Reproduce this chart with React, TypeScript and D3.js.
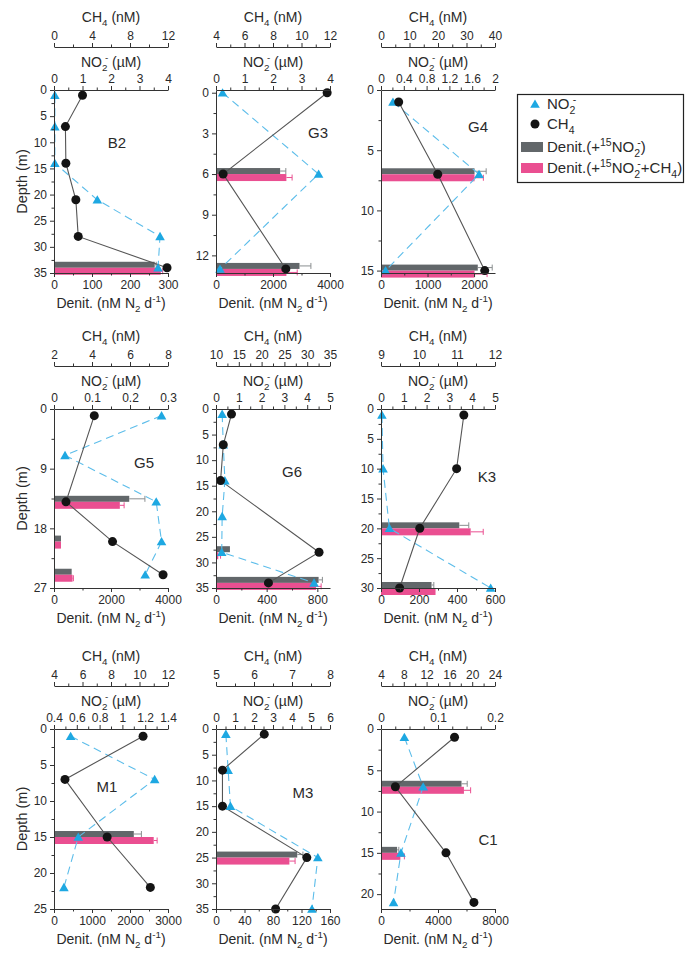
import { useRef, useEffect } from 'react';
import * as d3 from 'd3';

type Pt = [number, number]; // [depth (m), value]
type Bar = [number, number, number]; // [depth (m), rate, error]

// B2
const b2Ch4: Pt[] = [[1, 3.0], [7, 1.2], [14, 1.25], [21, 2.3], [28, 2.55], [34, 11.9]];
const b2No2: Pt[] = [[1, 0.03], [7, 0.03], [14, 0.03], [21, 1.52], [28, 3.72], [34, 3.65]];
const b2DenitNo2: Bar[] = [[34, 265, 4]];
const b2DenitCh4: Bar[] = [[34, 281, 5]];

// G3
const g3Ch4: Pt[] = [[0, 11.8], [6, 4.5], [13, 8.9]];
const g3No2: Pt[] = [[0, 0.23], [6, 3.6], [13, 0.14]];
const g3DenitNo2: Bar[] = [[6, 2250, 200], [13, 2930, 400]];
const g3DenitCh4: Bar[] = [[6, 2470, 200], [13, 2470, 380]];

// G4
const g4Ch4: Pt[] = [[1, 6.2], [7, 19.9], [15, 36.4]];
const g4No2: Pt[] = [[1, 0.21], [7, 1.72], [15, 0.08]];
const g4DenitNo2: Bar[] = [[7, 2010, 250], [15, 2080, 310]];
const g4DenitCh4: Bar[] = [[7, 2010, 190], [15, 2010, 270]];

// G5
const g5Ch4: Pt[] = [[1, 4.12], [14, 2.63], [20, 5.08], [25, 7.74]];
const g5No2: Pt[] = [[1, 0.283], [7, 0.029], [14, 0.269], [20, 0.283], [25, 0.24]];
const g5DenitNo2: Bar[] = [[14, 2640, 550], [20, 245, 0], [25, 620, 0]];
const g5DenitCh4: Bar[] = [[14, 2310, 150], [20, 245, 0], [25, 650, 30]];

// G6
const g6Ch4: Pt[] = [[1, 13.4], [7, 11.6], [14, 11.0], [28, 32.6], [34, 21.5]];
const g6No2: Pt[] = [[1, 0.27], [7, 0.32], [14, 0.39], [21, 0.27], [28, 0.25], [34, 4.3]];
const g6DenitNo2: Bar[] = [[28, 110, 0], [34, 810, 30]];
const g6DenitCh4: Bar[] = [[28, 18, 18], [34, 790, 40]];

// K3
const k3Ch4: Pt[] = [[1, 11.18], [10, 10.99], [20, 10.02], [30, 9.49]];
const k3No2: Pt[] = [[1, 0.04], [10, 0.09], [20, 0.37], [30, 4.81]];
const k3DenitNo2: Bar[] = [[20, 412, 50], [30, 266, 12]];
const k3DenitCh4: Bar[] = [[20, 472, 66], [30, 287, 0]];

// M1
const m1Ch4: Pt[] = [[1, 10.25], [7, 4.77], [15, 7.73], [22, 10.76]];
const m1No2: Pt[] = [[1, 0.546], [7, 1.283], [15, 0.613], [22, 0.487]];
const m1DenitNo2: Bar[] = [[15, 2100, 200]];
const m1DenitCh4: Bar[] = [[15, 2624, 90]];

// M3
const m3Ch4: Pt[] = [[1, 6.27], [8, 5.17], [15, 5.17], [25, 7.39], [35, 6.57]];
const m3No2: Pt[] = [[1, 0.52], [8, 0.64], [15, 0.76], [25, 5.36], [35, 5.05]];
const m3DenitNo2: Bar[] = [[25, 114, 8]];
const m3DenitCh4: Bar[] = [[25, 103, 8]];

// C1
const c1Ch4: Pt[] = [[1, 16.9], [7, 6.52], [15, 15.4], [21, 20.3]];
const c1No2: Pt[] = [[1, 0.041], [7, 0.074], [15, 0.035], [21, 0.022]];
const c1DenitNo2: Bar[] = [[7, 5650, 400], [15, 1130, 120]];
const c1DenitCh4: Bar[] = [[7, 5820, 470], [15, 1360, 280]];

// axis specs: [min, max, major step, minor step]
const panels = [
  { name: 'B2', row: 0, col: 0, ch4Axis: [0, 12, 4, 2], no2Axis: [0, 4, 1, 0.5], depthAxis: [0, 35, 5, 2.5], denitAxis: [0, 300, 100, 50], ch4: b2Ch4, no2: b2No2, gray: b2DenitNo2, pink: b2DenitCh4, label: [63, 53] },
  { name: 'G3', row: 0, col: 1, ch4Axis: [4, 12, 2, 1], no2Axis: [0, 4, 1, 0.5], depthAxis: [-0.2, 13.3, 3, 1.5], denitAxis: [0, 4000, 2000, 1000], ch4: g3Ch4, no2: g3No2, gray: g3DenitNo2, pink: g3DenitCh4, label: [102, 43] },
  { name: 'G4', row: 0, col: 2, ch4Axis: [0, 40, 10, 5], no2Axis: [0, 2, 0.4, 0.2], depthAxis: [0, 15.2, 5, 2.5], denitAxis: [0, 2450, 1000, 500], ch4: g4Ch4, no2: g4No2, gray: g4DenitNo2, pink: g4DenitCh4, label: [97, 37] },
  { name: 'G5', row: 1, col: 0, ch4Axis: [2, 8, 2, 1], no2Axis: [0, 0.3, 0.1, 0.05], depthAxis: [0, 27, 9, 4.5], denitAxis: [0, 4000, 2000, 1000], ch4: g5Ch4, no2: g5No2, gray: g5DenitNo2, pink: g5DenitCh4, label: [90, 54] },
  { name: 'G6', row: 1, col: 1, ch4Axis: [10, 35, 5, 2.5], no2Axis: [0, 5, 1, 0.5], depthAxis: [0, 35, 5, 2.5], denitAxis: [0, 900, 400, 200], ch4: g6Ch4, no2: g6No2, gray: g6DenitNo2, pink: g6DenitCh4, label: [76, 63] },
  { name: 'K3', row: 1, col: 2, ch4Axis: [9, 12, 1, 0.5], no2Axis: [0, 5, 1, 0.5], depthAxis: [0, 30, 5, 2.5], denitAxis: [0, 600, 200, 100], ch4: k3Ch4, no2: k3No2, gray: k3DenitNo2, pink: k3DenitCh4, label: [106, 68] },
  { name: 'M1', row: 2, col: 0, ch4Axis: [4, 12, 2, 1], no2Axis: [0.4, 1.4, 0.2, 0.1], depthAxis: [0, 25, 5, 2.5], denitAxis: [0, 3000, 1000, 500], ch4: m1Ch4, no2: m1No2, gray: m1DenitNo2, pink: m1DenitCh4, label: [53, 58] },
  { name: 'M3', row: 2, col: 1, ch4Axis: [5, 8, 1, 0.5], no2Axis: [0, 6, 1, 0.5], depthAxis: [0, 35, 5, 2.5], denitAxis: [0, 160, 40, 20], ch4: m3Ch4, no2: m3No2, gray: m3DenitNo2, pink: m3DenitCh4, label: [87, 64] },
  { name: 'C1', row: 2, col: 2, ch4Axis: [4, 24, 4, 2], no2Axis: [0, 0.2, 0.1, 0.025], depthAxis: [0, 21.8, 5, 2.5], denitAxis: [0, 8000, 4000, 2000], ch4: c1Ch4, no2: c1No2, gray: c1DenitNo2, pink: c1DenitCh4, label: [107, 111] },
];

const W = 685;
const H = 954;
const colX = [54, 216, 381];
const rowY = [90, 409, 729];
const rowH = [183, 179, 180];
const plotW = 114;

const FONT = "'Liberation Sans', Arial, Helvetica, sans-serif";
const INK = '#2a2a2a';
const BLUE = '#1ea8e2';
const BLUE_LINE = '#5cbdea';
const GRAY = '#62676a';
const PINK = '#ea4f91';

function ticksOf(lo: number, hi: number, step: number) {
  const out: number[] = [];
  const i0 = Math.ceil(lo / step - 1e-9);
  const i1 = Math.floor(hi / step + 1e-9);
  for (let i = i0; i <= i1; i++) out.push(+(i * step).toFixed(6));
  return out;
}

const fmt = (v: any) => String(+(+v).toFixed(4));

// segs: [text, kind] kind 0 normal, 1 subscript, 2 superscript, 3 superscript tucked after a subscript
function rich(text: any, segs: [string, number][], size: number) {
  let shift = 0;
  let lastW = 0;
  segs.forEach(([t, k]) => {
    const fs = k === 0 ? size : size * 0.7;
    const target = k === 1 ? size * 0.3 : k >= 2 ? -size * 0.42 : 0;
    const ts = text.append('tspan').attr('font-size', fs).attr('dy', target - shift).text(t);
    if (k === 3) ts.attr('dx', -lastW * 0.45);
    shift = target;
    lastW = t.length * fs * 0.556;
  });
}

function drawAxis(g: any, make: any, scale: any, spec: number[]) {
  const [lo, hi, major, minor] = spec;
  const majors = ticksOf(lo, hi, major);
  const minors = ticksOf(lo, hi, minor).filter(v => !majors.some(m => Math.abs(m - v) < 1e-9));
  g.call(make(scale).tickValues(majors).tickSize(4).tickSizeOuter(0).tickPadding(3).tickFormat(fmt));
  g.append('g')
    .call(make(scale).tickValues(minors).tickSize(2.5).tickSizeOuter(0).tickFormat(() => ''))
    .select('.domain')
    .remove();
  g.attr('font-family', FONT).attr('font-size', 12).style('color', '#333');
  g.selectAll('text').attr('fill', INK);
}

export default function App() {
  const svgRef = useRef<SVGSVGElement>(null);

  useEffect(() => {
    const svg = d3.select(svgRef.current);
    svg.selectAll('*').remove();
    svg.append('rect').attr('width', W).attr('height', H).attr('fill', '#fff');

    panels.forEach(p => {
      const left = colX[p.col];
      const top = rowY[p.row];
      const h = rowH[p.row];
      const g = svg.append('g');

      const y = d3.scaleLinear().domain([p.depthAxis[0], p.depthAxis[1]]).range([top, top + h]);
      const xCh4 = d3.scaleLinear().domain([p.ch4Axis[0], p.ch4Axis[1]]).range([left, left + plotW]);
      const xNo2 = d3.scaleLinear().domain([p.no2Axis[0], p.no2Axis[1]]).range([left, left + plotW]);
      const xDen = d3.scaleLinear().domain([p.denitAxis[0], p.denitAxis[1]]).range([left, left + plotW]);

      // denitrification bars
      const bars = g.append('g');
      const drawBars = (data: Bar[], color: string, errColor: string, y0: number, y1: number) => {
        data.forEach(([d, v, e]) => {
          const yt = y(d) + y0;
          bars.append('rect')
            .attr('x', xDen(0)).attr('y', yt)
            .attr('width', xDen(v) - xDen(0)).attr('height', y1 - y0)
            .attr('fill', color);
          if (e > 0) {
            const ym = yt + (y1 - y0) / 2;
            bars.append('line')
              .attr('x1', xDen(v)).attr('x2', xDen(v + e)).attr('y1', ym).attr('y2', ym)
              .attr('stroke', errColor).attr('stroke-width', 1);
            bars.append('line')
              .attr('x1', xDen(v + e)).attr('x2', xDen(v + e)).attr('y1', ym - 3).attr('y2', ym + 3)
              .attr('stroke', errColor).attr('stroke-width', 1);
          }
        });
      };
      drawBars(p.gray, GRAY, '#8a8e90', -6, 0);
      drawBars(p.pink, PINK, PINK, 0, 7);

      // NO2 profile
      const no2Line = d3.line<Pt>().x(d => xNo2(d[1])).y(d => y(d[0]));
      g.append('path').attr('d', no2Line(p.no2)).attr('fill', 'none')
        .attr('stroke', BLUE_LINE).attr('stroke-width', 1.1).attr('stroke-dasharray', '8,5');

      // CH4 profile
      const ch4Line = d3.line<Pt>().x(d => xCh4(d[1])).y(d => y(d[0]));
      g.append('path').attr('d', ch4Line(p.ch4)).attr('fill', 'none')
        .attr('stroke', '#555').attr('stroke-width', 1.1);

      const tri = d3.symbol().type(d3.symbolTriangle).size(40);
      g.selectAll('.tri').data(p.no2).enter().append('path')
        .attr('d', tri())
        .attr('transform', d => `translate(${xNo2(d[1])},${y(d[0]) + 1})`)
        .attr('fill', BLUE);

      g.selectAll('.dot').data(p.ch4).enter().append('circle')
        .attr('cx', d => xCh4(d[1])).attr('cy', d => y(d[0])).attr('r', 4.5)
        .attr('fill', '#141414');

      // axes
      drawAxis(g.append('g').attr('transform', `translate(${left},0)`), d3.axisLeft, y, p.depthAxis);
      drawAxis(g.append('g').attr('transform', `translate(0,${top + h})`), d3.axisBottom, xDen, p.denitAxis);
      drawAxis(g.append('g').attr('transform', `translate(0,${top})`), d3.axisTop, xNo2, p.no2Axis);
      drawAxis(g.append('g').attr('transform', `translate(0,${top - 43})`), d3.axisTop, xCh4, p.ch4Axis);

      const cx = left + plotW / 2;
      const title = (yy: number, segs: [string, number][]) => {
        const t = g.append('text').attr('x', cx).attr('y', yy).attr('text-anchor', 'middle')
          .attr('font-family', FONT).attr('font-size', 14).attr('fill', INK);
        rich(t, segs, 14);
      };
      title(top - 68, [['CH', 0], ['4', 1], [' (nM)', 0]]);
      title(top - 23, [['NO', 0], ['2', 1], ['-', 3], [' (\u00b5M)', 0]]);
      title(top + h + 35, [['Denit. (nM N', 0], ['2', 1], [' d', 0], ['-1', 2], [')', 0]]);

      if (p.col === 0) {
        g.append('text')
          .attr('transform', `translate(22,${top + h / 2}) rotate(-90)`)
          .attr('text-anchor', 'middle').attr('dy', '0.35em')
          .attr('font-family', FONT).attr('font-size', 14.5).attr('fill', INK)
          .text('Depth (m)');
      }

      g.append('text')
        .attr('x', left + p.label[0]).attr('y', top + p.label[1]).attr('dy', '0.35em')
        .attr('text-anchor', 'middle').attr('font-family', FONT).attr('font-size', 15).attr('fill', INK)
        .text(p.name);
    });

    // legend
    const lg = svg.append('g');
    lg.append('rect').attr('x', 517.5).attr('y', 94.5).attr('width', 166).attr('height', 88)
      .attr('fill', '#fff').attr('stroke', '#222').attr('stroke-width', 1.2);
    lg.append('path').attr('d', d3.symbol().type(d3.symbolTriangle).size(40)()).attr('transform', 'translate(535,105)').attr('fill', BLUE);
    lg.append('circle').attr('cx', 535).attr('cy', 124).attr('r', 4.5).attr('fill', '#141414');
    lg.append('rect').attr('x', 521).attr('y', 142).attr('width', 22).attr('height', 10).attr('fill', GRAY);
    lg.append('rect').attr('x', 521).attr('y', 163).attr('width', 22).attr('height', 10).attr('fill', PINK);
    const items: [number, [string, number][]][] = [
      [109, [['NO', 0], ['2', 1], ['-', 3]]],
      [129, [['CH', 0], ['4', 1]]],
      [152, [['Denit.(+', 0], ['15', 2], ['NO', 0], ['2', 1], ['-', 3], [')', 0]]],
      [173, [['Denit.(+', 0], ['15', 2], ['NO', 0], ['2', 1], ['-', 3], ['+CH', 0], ['4', 1], [')', 0]]],
    ];
    items.forEach(([yy, segs]) => {
      const t = lg.append('text').attr('x', 547).attr('y', yy)
        .attr('font-family', FONT).attr('font-size', 15).attr('fill', INK);
      rich(t, segs, 15);
    });
  }, []);

  return (
    <svg
      ref={svgRef}
      width={W}
      height={H}
      viewBox={`0 0 ${W} ${H}`}
      style={{ position: 'absolute', left: 0, top: 0, display: 'block' }}
    />
  );
}
